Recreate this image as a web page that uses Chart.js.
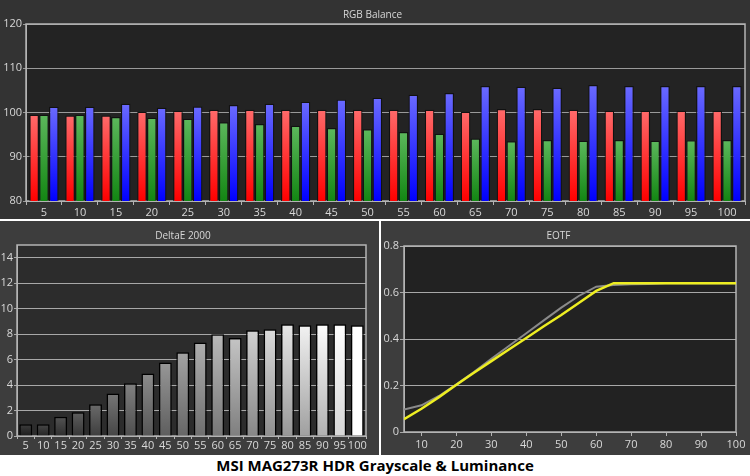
<!DOCTYPE html>
<html>
<head>
<meta charset="utf-8">
<script src="https://cdn.jsdelivr.net/npm/chart.js@4/dist/chart.umd.min.js"></script>
<style>
  body { margin: 0; background: #fff; }
  #wrap { position: relative; width: 750px; height: 476px; background: #fff; overflow: hidden; }
  .panel { position: absolute; }
  #caption { position: absolute; left: 0; top: 455px; width: 750px; height: 21px; text-align: center;
    font: bold 15px "Open Sans", sans-serif; color: #000; line-height: 21px; }
</style>
</head>
<body>
<div id="wrap">
  <div class="panel" style="left:0;top:0;width:750px;height:219px"><canvas id="rgbChart"></canvas></div>
  <div class="panel" style="left:0;top:221px;width:379px;height:234px"><canvas id="deltaChart"></canvas></div>
  <div class="panel" style="left:381px;top:221px;width:369px;height:234px"><canvas id="eotfChart"></canvas></div>
  <div id="caption">MSI MAG273R HDR Grayscale &amp; Luminance</div>
</div>
<script>
// grayscale steps (% stimulus)
var steps = ["5", "10", "15", "20", "25", "30", "35", "40", "45", "50",
             "55", "60", "65", "70", "75", "80", "85", "90", "95", "100"];

// RGB balance (%)
var redVals   = [99.5, 99.3, 99.3, 100.15, 100.4, 100.6, 100.6, 100.6, 100.6, 100.6,
                 100.6, 100.6, 100.15, 100.8, 100.8, 100.6, 100.4, 100.4, 100.4, 100.4];
var greenVals = [99.5, 99.5, 99.0, 98.8, 98.6, 97.8, 97.4, 97.0, 96.5, 96.2,
                 95.6, 95.2, 94.1, 93.5, 93.8, 93.6, 93.8, 93.6, 93.7, 93.8];
var blueVals  = [101.3, 101.3, 101.95, 101.05, 101.35, 101.7, 101.95, 102.4, 102.9, 103.3,
                 104.0, 104.4, 106.0, 105.8, 105.6, 106.2, 106.0, 106.0, 106.0, 106.0];

// DeltaE 2000 per step
var deltaVals = [0.92, 0.92, 1.52, 1.87, 2.5, 3.34, 4.15, 4.91, 5.78, 6.57,
                 7.35, 7.99, 7.7, 8.3, 8.38, 8.77, 8.7, 8.77, 8.77, 8.7];

// EOTF (x = stimulus %, y = normalised luminance)
var eotfX      = [5, 10, 15, 20, 25, 30, 35, 40, 45, 50, 55, 60, 65, 70, 75, 80, 85, 90, 95, 100];
var eotfMeas   = [0.055, 0.10, 0.15, 0.203, 0.255, 0.305, 0.355, 0.404, 0.455, 0.503,
                  0.555, 0.607, 0.64, 0.64, 0.64, 0.64, 0.64, 0.64, 0.64, 0.64];
var eotfTarget = [0.097, 0.115, 0.155, 0.205, 0.258, 0.315, 0.37, 0.425, 0.48, 0.535,
                  0.585, 0.625, 0.632, 0.635, 0.637, 0.64, 0.64, 0.64, 0.64, 0.64];

var tickFont = { family: "'Open Sans', sans-serif", size: 11 };
var titleFont = { family: "'Open Sans', sans-serif", size: 10, weight: "normal" };

// paints panel + plot backgrounds and the plot frame
var panelBg = {
  id: "panelBg",
  beforeDraw: function (chart, args, opts) {
    var ctx = chart.ctx, a = chart.chartArea;
    ctx.save();
    ctx.fillStyle = opts.outer;
    ctx.fillRect(0, 0, chart.width, chart.height);
    ctx.fillStyle = opts.inner;
    ctx.fillRect(a.left, a.top, a.right - a.left, a.bottom - a.top);
    ctx.restore();
  },
  beforeDatasetsDraw: function (chart, args, opts) {
    var ctx = chart.ctx, a = chart.chartArea;
    ctx.save();
    ctx.strokeStyle = "#b4b4b4";
    ctx.lineWidth = 1.5;
    ctx.strokeRect(a.left, a.top, a.right - a.left, a.bottom - a.top);
    ctx.restore();
  }
};

// gradient from the bar top down to the axis
function barGrad(top, bottom) {
  return function (c) {
    var chart = c.chart;
    if (!chart.chartArea || !c.parsed) return bottom;
    var y = chart.scales.y.getPixelForValue(c.parsed.y);
    var g = chart.ctx.createLinearGradient(0, y, 0, chart.chartArea.bottom);
    g.addColorStop(0, top);
    g.addColorStop(1, bottom);
    return g;
  };
}

function grayGrad(c) {
  var chart = c.chart;
  if (!chart.chartArea || !c.parsed) return "#888";
  var lvl = 0.16 + 0.84 * c.dataIndex / (steps.length - 1);
  var t = Math.round(Math.min(1, lvl + 0.08) * 255);
  var b = Math.round(Math.min(1, lvl * 0.72 + (lvl > 0.9 ? (lvl - 0.9) * 2.8 : 0)) * 255);
  var y = chart.scales.y.getPixelForValue(c.parsed.y);
  var g = chart.ctx.createLinearGradient(0, y, 0, chart.chartArea.bottom);
  g.addColorStop(0, "rgb(" + t + "," + t + "," + t + ")");
  g.addColorStop(1, "rgb(" + b + "," + b + "," + b + ")");
  return g;
}

function fixW(w) { return function (s) { s.width = w; }; }
function fixH(h) { return function (s) { s.height = h; }; }

Chart.defaults.animation = false;
Chart.defaults.color = "#d8d8d8";

// ---- RGB Balance ----
new Chart(document.getElementById("rgbChart"), {
  type: "bar",
  data: {
    labels: steps,
    datasets: [
      { label: "Red", data: redVals, backgroundColor: barGrad("#ff6a6a", "#ff0000") },
      { label: "Green", data: greenVals, backgroundColor: barGrad("#5cb85c", "#138613") },
      { label: "Blue", data: blueVals, backgroundColor: barGrad("#6a6aff", "#0000ff") }
    ]
  },
  options: {
    responsive: true,
    maintainAspectRatio: false,
    layout: { padding: { right: 5 } },
    datasets: { bar: { borderColor: "#111", borderWidth: 1.2, borderSkipped: "bottom",
                       barPercentage: 0.97, categoryPercentage: 0.82 } },
    plugins: {
      legend: { display: false },
      tooltip: { enabled: false },
      title: { display: true, text: "RGB Balance", color: "#d8d8d8", font: titleFont,
               padding: { top: 9, bottom: 3 } },
      panelBg: { outer: "#333333", inner: "#232323" }
    },
    scales: {
      x: {
        afterFit: fixH(18),
        grid: { drawOnChartArea: false, color: "#b4b4b4", tickLength: 4, offset: true },
        border: { color: "#b4b4b4" },
        ticks: { font: tickFont, padding: 1, maxRotation: 0, autoSkip: false }
      },
      y: {
        min: 80, max: 120,
        afterFit: fixW(26),
        grid: { color: "#9a9a9a", tickLength: 3 },
        border: { color: "#b4b4b4" },
        ticks: { stepSize: 10, font: tickFont, padding: 1 }
      }
    }
  },
  plugins: [panelBg]
});

// ---- DeltaE 2000 ----
new Chart(document.getElementById("deltaChart"), {
  type: "bar",
  data: {
    labels: steps,
    datasets: [
      { label: "DeltaE 2000", data: deltaVals, backgroundColor: grayGrad,
        borderColor: "#000", borderWidth: 1.5, borderSkipped: "bottom",
        barPercentage: 0.74, categoryPercentage: 1 }
    ]
  },
  options: {
    responsive: true,
    maintainAspectRatio: false,
    layout: { padding: { right: 13 } },
    plugins: {
      legend: { display: false },
      tooltip: { enabled: false },
      title: { display: true, text: "DeltaE 2000", color: "#d8d8d8", font: titleFont,
               padding: { top: 9, bottom: 3 } },
      panelBg: { outer: "#3d3d3d", inner: "#2c2c2c" }
    },
    scales: {
      x: {
        afterFit: fixH(19),
        grid: { drawOnChartArea: false, color: "#b4b4b4", tickLength: 3, offset: true },
        border: { color: "#b4b4b4" },
        ticks: { font: tickFont, padding: 0, maxRotation: 0, autoSkip: false }
      },
      y: {
        min: 0, max: 15,
        afterFit: fixW(17),
        grid: { color: "#a8a8a8", tickLength: 3 },
        border: { color: "#b4b4b4" },
        ticks: { stepSize: 2, font: tickFont, padding: 1,
                 callback: function (v) { return v > 14 ? null : v; } }
      }
    }
  },
  plugins: [panelBg]
});

// ---- EOTF ----
function pts(ys) {
  return eotfX.map(function (x, i) { return { x: x, y: ys[i] }; });
}

new Chart(document.getElementById("eotfChart"), {
  type: "line",
  data: {
    datasets: [
      { label: "Measured", data: pts(eotfMeas), borderColor: "#eeee22", borderWidth: 2.5,
        pointRadius: 0, tension: 0, order: 0 },
      { label: "Target", data: pts(eotfTarget), borderColor: "#8a8a8a", borderWidth: 2,
        pointRadius: 0, tension: 0, order: 1 }
    ]
  },
  options: {
    responsive: true,
    maintainAspectRatio: false,
    layout: { padding: { right: 14 } },
    plugins: {
      legend: { display: false },
      tooltip: { enabled: false },
      title: { display: true, text: "EOTF", color: "#d8d8d8", font: titleFont,
               padding: { top: 9, bottom: 4 } },
      panelBg: { outer: "#3d3d3d", inner: "#222222" }
    },
    scales: {
      x: {
        type: "linear", min: 5, max: 100,
        afterFit: fixH(23),
        grid: { drawOnChartArea: false, color: "#b4b4b4", tickLength: 4 },
        border: { color: "#b4b4b4" },
        ticks: { stepSize: 10, font: tickFont, padding: 2, maxRotation: 0,
                 callback: function (v) { return v < 10 ? null : v; } }
      },
      y: {
        min: 0, max: 0.8,
        afterFit: fixW(23),
        grid: { color: "#a8a8a8", tickLength: 4 },
        border: { color: "#b4b4b4" },
        ticks: { stepSize: 0.2, font: tickFont, padding: 1,
                 callback: function (v) { return v === 0 ? "0" : v.toFixed(1); } }
      }
    }
  },
  plugins: [panelBg]
});
</script>
</body>
</html>
